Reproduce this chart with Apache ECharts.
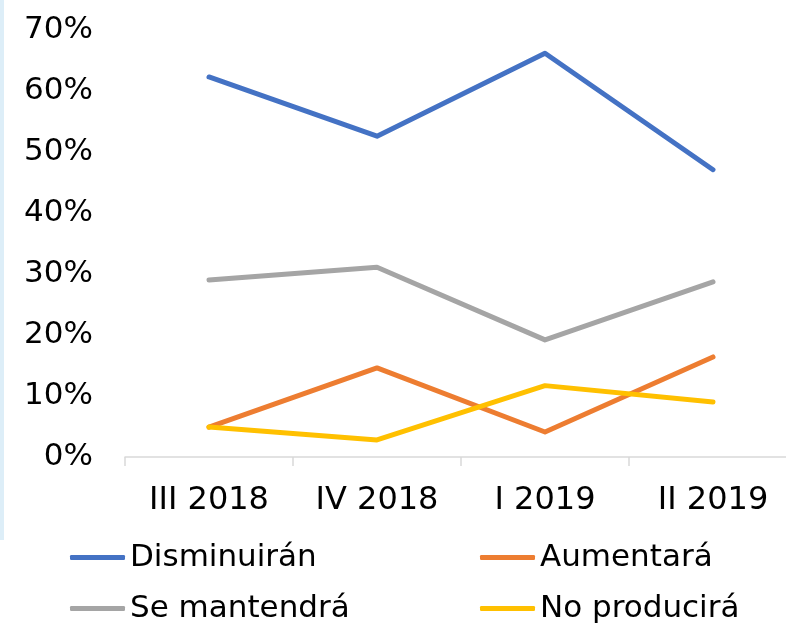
<!DOCTYPE html>
<html>
<head>
<meta charset="utf-8">
<script src="https://cdn.jsdelivr.net/npm/echarts@6/dist/echarts.min.js"></script>
<style>
  html, body { margin: 0; padding: 0; background: #fff; overflow: hidden; }
  #chart { width: 800px; height: 627px; }
</style>
</head>
<body>
<div id="chart"></div>
<script>
const categories = ['III 2018', 'IV 2018', 'I 2019', 'II 2019']
const disminuiran = [0.623, 0.526, 0.662, 0.471]
const aumentara = [0.049, 0.146, 0.041, 0.164]
const seMantendra = [0.290, 0.311, 0.192, 0.287]
const noProducira = [0.049, 0.028, 0.117, 0.090]

const font = 'DejaVu Sans'

const lineSeries = (name, data, color) => ({
  name: name,
  type: 'line',
  data: data,
  symbol: 'none',
  itemStyle: { color: color },
  lineStyle: { width: 5, color: color, cap: 'round', join: 'round' },
  animation: false
})

const legendBase = {
  orient: 'vertical',
  top: 542,
  padding: 0,
  itemGap: 20,
  itemWidth: 55,
  itemHeight: 5,
  icon: 'roundRect',
  textStyle: { fontFamily: font, fontSize: 31, color: '#000' }
}

// chart is a bit wider than the window: the plot runs past the right edge, as in the source
const chart = echarts.init(document.getElementById('chart'))
chart.setOption({
  animation: false,
  graphic: [{
    type: 'rect',
    shape: { x: 0, y: 0, width: 4, height: 540 },
    style: { fill: '#ddeef8' }
  }],
  grid: { left: 125, right: 3, top: 30, bottom: 170 },
  legend: [
    Object.assign({}, legendBase, { left: 70, data: ['Disminuirán', 'Se mantendrá'] }),
    Object.assign({}, legendBase, { left: 480, data: ['Aumentará', 'No producirá'] })
  ],
  xAxis: {
    type: 'category',
    data: categories,
    boundaryGap: true,
    axisLine: { lineStyle: { color: '#d9d9d9', width: 1.5 } },
    axisTick: { show: true, alignWithLabel: false, length: 9, lineStyle: { color: '#d9d9d9', width: 1.5 } },
    axisLabel: { fontFamily: font, fontSize: 32, color: '#000', margin: 28 }
  },
  yAxis: {
    type: 'value',
    min: 0,
    max: 0.7,
    interval: 0.1,
    axisLine: { show: false },
    axisTick: { show: false },
    splitLine: { show: false },
    axisLabel: {
      fontFamily: font,
      fontSize: 31,
      color: '#000',
      margin: 32,
      formatter: v => Math.round(v * 100) + '%'
    }
  },
  series: [
    lineSeries('Disminuirán', disminuiran, '#4472C4'),
    lineSeries('Aumentará', aumentara, '#ED7D31'),
    lineSeries('Se mantendrá', seMantendra, '#A5A5A5'),
    lineSeries('No producirá', noProducira, '#FFC000')
  ]
})
</script>
</body>
</html>
